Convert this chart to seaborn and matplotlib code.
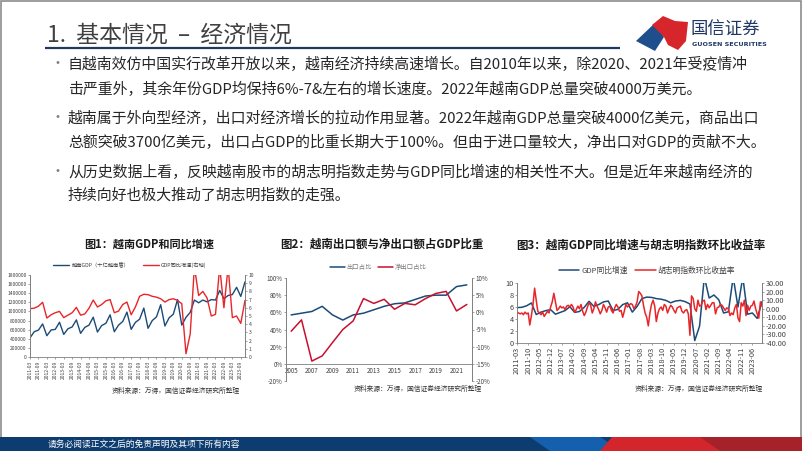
import numpy as np
import pandas as pd
import matplotlib
matplotlib.use("Agg")
import matplotlib.pyplot as plt
import seaborn as sns
from matplotlib.patches import Rectangle, Polygon

# ---------------- data ----------------
# Chart 1: quarterly GDP (billion VND) and GDP yoy growth (%), 2011Q1-2023Q4
gdp_q = [420000, 555000, 590000, 726000,
         467000, 593000, 607000, 763000,
         496000, 620000, 660000, 815000,
         519000, 650000, 700000, 874000,
         548000, 690000, 740000, 926000,
         555000, 700000, 780000, 985000,
         607000, 760000, 830000, 1074000,
         630000, 800000, 880000, 1148000,
         681000, 860000, 940000, 1260000,
         700000, 870000, 980000, 1250000,
         1190000, 1250000, 1210000, 1260000,
         1250000, 1460000, 1280000, 1350000,
         1370000, 1530000, 1330000, 1650000]
gdp_yoy = [5.9, 5.95, 6.2, 6.67,
           4.75, 5.15, 5.4, 5.56,
           4.8, 5.1, 5.4, 6.05,
           5.1, 5.25, 5.95, 6.95,
           6.1, 6.4, 6.85, 7.0,
           5.4, 5.6, 6.4, 6.7,
           5.15, 6.1, 7.4, 7.65,
           7.6, 7.4, 7.3, 7.1,
           6.7, 7.0, 7.1, 6.9,
           6.5, 0.4, 2.8, 11,
           7.5, 8.0, 7.2, 5.0,
           5.2, 11, 6.0, 11,
           4.8, 5.0, 4.1, 6.9]

# Chart 2: export share and net export share of GDP (%), 2005-2022
years2 = list(range(2005, 2023))
export_share = [57, 59, 61, 67, 57, 51, 57, 59, 63, 67, 70, 71, 75, 79, 80, 80, 90, 92]
net_export_share = [-5.5, -2.2, -14.2, -12.7, -8.8, -5.0, -2.5, 4.0, 2.6, 3.8, 0.9,
                    2.6, 2.2, 4.0, 5.5, 6.1, 0.4, 2.3]

# Chart 3: Ho Chi Minh index monthly return (%), 2011-03 .. 2023-12
hcm_ret = [-4, -5, -6, -5, -7, -4, -6, -5, -19, -8,
           5, 24, 10, -3, -5, -7, -4, -9, -6, -3,
           -5, 2, 8, 18, 8, -2, 0, 3, 1, 2,
           -1, 3, 4, 2, 5, 2, -4, -1, 3, 0,
           5, -3, -8, -4, 2, 7, 4, -5, 0, 8,
           3, -1, -6, -2, 5, 1, -4, 2, 3, -2,
           -5, 1, 5, 2, -3, -2, -10, -3, 5, 2,
           4, 6, 5, 0, 3, 8, 20, 18, 15, 4,
           -5, -10, -20, -5, 5, 10, 3, -15, -5, 0,
           2, -2, 5, 3, -5, 0, 4, 2, -2, -5,
           1, 2, 3, -3, -5, -2, -1, -6, -31, 15,
           12, 0, -3, 10, 3, 4, 9, 10, -1, 5,
           1, 4, 7, 7, -6, 1, 2, 5, 4, 1,
           -2, 1, 0, -8, -5, -7, 1, 5, -11, -15,
           7, 3, 10, -8, 4, -2, 3, 4, 9, 0,
           -6, -11, 8, 3]

title_main = "1.  基本情况  –  经济情况"
bullets = [
    ["自越南效仿中国实行改革开放以来，越南经济持续高速增长。自2010年以来，除2020、2021年受疫情冲",
     "击严重外，其余年份GDP均保持6%-7&左右的增长速度。2022年越南GDP总量突破4000万美元。"],
    ["越南属于外向型经济，出口对经济增长的拉动作用显著。2022年越南GDP总量突破4000亿美元，商品出口",
     "总额突破3700亿美元，出口占GDP的比重长期大于100%。但由于进口量较大，净出口对GDP的贡献不大。"],
    ["从历史数据上看，反映越南股市的胡志明指数走势与GDP同比增速的相关性不大。但是近年来越南经济的",
     "持续向好也极大推动了胡志明指数的走强。"],
]
chart_titles = ["图1：越南GDP和同比增速", "图2：越南出口额与净出口额占GDP比重",
                "图3：越南GDP同比增速与胡志明指数环比收益率"]
source = "资料来源：万得，国信证券经济研究所整理"
footer = "请务必阅读正文之后的免责声明及其项下所有内容"

# ---------------- style ----------------
sns.set_theme(style="ticks")
plt.rcParams['font.family'] = ['Noto Sans CJK SC', 'DejaVu Sans']
plt.rcParams['axes.unicode_minus'] = False

BLUE = "#1B4B78"
RED = "#E8262A"
RED2 = "#C8102E"

W, H = 802, 451
fig = plt.figure(figsize=(W / 100, H / 100), dpi=100)
fig.patch.set_facecolor("white")


def rect(l, t, r, b):
    return [l / W, 1 - b / H, (r - l) / W, (b - t) / H]


ov = fig.add_axes([0, 0, 1, 1])
ov.set_xlim(0, W)
ov.set_ylim(H, 0)
ov.axis("off")

# frame
ov.add_patch(Rectangle((0.5, 0.5), W - 1.5, H - 1.5, fill=False, ec="#8c8c8c", lw=1.2))

# header
ov.text(47, 35, title_main, fontsize=16.5, color="#404040", va="center", ha="left")
ov.plot([45, 620], [48, 48], color="#1F3864", lw=1.6, solid_capstyle="butt")
ov.add_patch(Polygon([(636, 41), (655, 23), (664, 37), (655, 51)], closed=True, fc="#1F4E8C", ec="none"))
ov.add_patch(Polygon([(652, 25), (663, 16), (675, 21), (688, 22), (686, 41), (678, 50), (668, 45), (664, 37)],
                     closed=True, fc="#D7262B", ec="none"))
ov.text(691, 30, "国信证券", fontsize=12.5, color="#1F3864", va="center", ha="left")
ov.text(692, 45, "GUOSEN SECURITIES", fontsize=4.6, color="#1F3864", va="center", ha="left",
        fontweight="bold", family=["DejaVu Sans"])

# bullets
line_y = [[64, 89], [118, 143], [172, 196]]
for blines, ys in zip(bullets, line_y):
    ov.text(50, ys[0], "•", fontsize=10, color="#7f7f7f", va="center", ha="left")
    for s, y in zip(blines, ys):
        ov.text(68, y, s, fontsize=10.75, color="#262626", va="center", ha="left")

# chart titles
ov.text(149, 244, chart_titles[0], fontsize=8, fontweight="bold", color="#1a1a1a", ha="center", va="center")
ov.text(382, 244, chart_titles[1], fontsize=8.3, fontweight="bold", color="#1a1a1a", ha="center", va="center")
ov.text(641, 245, chart_titles[2], fontsize=8.3, fontweight="bold", color="#1a1a1a", ha="center", va="center")

# sources
ov.text(240, 391, source, fontsize=4.9, color="#333333", ha="right", va="center")
ov.text(482, 389, source, fontsize=4.9, color="#333333", ha="right", va="center")
ov.text(763, 389, source, fontsize=4.9, color="#333333", ha="right", va="center")

# footer bar
ov.add_patch(Polygon([(0, 437), (802, 437), (802, 451), (0, 451)], fc="#0D3D70", ec="none"))
ov.add_patch(Polygon([(530, 437), (600, 437), (622, 451), (550, 451)], fc="#1560AE", ec="none"))
ov.add_patch(Polygon([(612, 437), (802, 437), (802, 451), (600, 451)], fc="#D3262C", ec="none"))
ov.add_patch(Polygon([(700, 437), (802, 437), (802, 451), (720, 451)], fc="#A5222A", ec="none"))
ov.text(48, 444, footer, fontsize=6.3, color="white", ha="left", va="center")


def style_ax(ax, size):
    ax.spines["top"].set_visible(False)
    for s in ["left", "right", "bottom"]:
        ax.spines[s].set_color("#7f7f7f")
        ax.spines[s].set_linewidth(0.6)
    ax.tick_params(axis="both", labelsize=size, colors="#7f7f7f", labelcolor="#404040",
                   length=1.5, width=0.5, pad=1)
    ax.set_xlabel("")
    ax.set_ylabel("")


# ---------------- chart 1 ----------------
q_labels = pd.period_range("2011-03", periods=52, freq="3M").strftime("%Y-%m")
df1 = pd.DataFrame({"q": np.arange(len(gdp_q)), "gdp": gdp_q, "yoy": gdp_yoy})
ax1 = fig.add_axes(rect(30, 275, 245, 357))
sns.lineplot(data=df1, x="q", y="gdp", ax=ax1, color=BLUE, lw=1.0, legend=False)
ax1.set_ylim(0, 1800000)
ax1.set_yticks(np.arange(0, 1800001, 200000))
ax1.set_yticklabels([f"{int(v)}" for v in np.arange(0, 1800001, 200000)])
ax1.set_xlim(0, len(gdp_q) - 1)
ax1.set_xticks(np.arange(0, 52, 2))
ax1.set_xticklabels(q_labels[::2], rotation=90)
ax1b = ax1.twinx()
sns.lineplot(data=df1, x="q", y="yoy", ax=ax1b, color=RED, lw=1.0, legend=False)
ax1b.set_ylim(0, 10)
ax1b.set_yticks(range(0, 11))
style_ax(ax1, 3.6)
style_ax(ax1b, 3.6)
ax1b.spines["bottom"].set_visible(False)
h = ax1.get_lines()[:1] + ax1b.get_lines()[:1]
ax1.legend(handles=h, labels=["越南GDP（十亿越南盾）", "GDP同比增速(右轴)"], loc="center",
           bbox_to_anchor=((130 - 30) / 215, (275 - 265) / 82 + 1), ncol=2, frameon=False,
           fontsize=3.8, handlelength=3, handletextpad=0.5, columnspacing=2.5, labelcolor="#404040")

# ---------------- chart 2 ----------------
df2 = pd.DataFrame({"i": np.arange(len(years2)), "exp": export_share, "net": net_export_share})
ax2 = fig.add_axes(rect(286, 278, 472, 381))
sns.lineplot(data=df2, x="i", y="exp", ax=ax2, color=BLUE, lw=1.1, legend=False)
ax2.set_ylim(-20, 100)
ax2.set_yticks(range(-20, 101, 20))
ax2.set_yticklabels([f"{v}%" for v in range(-20, 101, 20)])
ax2.set_xlim(-0.5, len(years2) - 0.5)
ax2.set_xticks(np.arange(0, len(years2), 2))
ax2.set_xticklabels([str(y) for y in years2[::2]])
ax2b = ax2.twinx()
sns.lineplot(data=df2, x="i", y="net", ax=ax2b, color=RED2, lw=1.1, legend=False)
ax2b.set_ylim(-20, 10)
ax2b.set_yticks(range(-20, 11, 5))
ax2b.set_yticklabels([f"{v}%" for v in range(-20, 11, 5)])
style_ax(ax2, 4.5)
style_ax(ax2b, 4.5)
ax2.spines["bottom"].set_position(("data", 0))
ax2.tick_params(axis="x", length=0, pad=2)
ax2b.spines["bottom"].set_visible(False)
h = ax2.get_lines()[:1] + ax2b.get_lines()[:1]
ax2.legend(handles=h, labels=["出口占比", "净出口占比"], loc="center",
           bbox_to_anchor=((378 - 286) / 186, (278 - 267) / 103 + 1), ncol=2, frameon=False,
           fontsize=4.6, handlelength=2.4, handletextpad=0.2, columnspacing=1.0, labelcolor="#7f7f7f")

# ---------------- chart 3 ----------------
m_labels = pd.period_range("2011-03", periods=len(hcm_ret), freq="M").strftime("%Y-%m")
df3m = pd.DataFrame({"m": np.arange(len(hcm_ret)), "ret": hcm_ret})
df3q = pd.DataFrame({"m": np.arange(0, len(hcm_ret), 3)[:len(gdp_yoy)], "yoy": gdp_yoy})
ax3 = fig.add_axes(rect(517, 283, 762, 343))
sns.lineplot(data=df3q, x="m", y="yoy", ax=ax3, color=BLUE, lw=1.1, legend=False)
ax3.set_ylim(0, 10)
ax3.set_yticks(range(0, 11, 2))
ax3.set_xlim(0, len(hcm_ret) - 1)
ax3.set_xticks(np.arange(0, len(hcm_ret), 7))
ax3.set_xticklabels(m_labels[::7], rotation=90)
ax3b = ax3.twinx()
sns.lineplot(data=df3m, x="m", y="ret", ax=ax3b, color=RED, lw=1.1, legend=False)
ax3b.set_ylim(-40, 30)
ax3b.set_yticks(range(-40, 31, 10))
ax3b.set_yticklabels([f"{v:.2f}" for v in range(-40, 31, 10)])
style_ax(ax3, 5.3)
style_ax(ax3b, 5.3)
ax3b.spines["bottom"].set_visible(False)
h = ax3.get_lines()[:1] + ax3b.get_lines()[:1]
ax3.legend(handles=h, labels=["GDP同比增速", "胡志明指数环比收益率"], loc="center",
           bbox_to_anchor=((647 - 517) / 245, (283 - 271) / 60 + 1), ncol=2, frameon=False,
           fontsize=5.6, handlelength=2.6, handletextpad=0.3, columnspacing=1.0, labelcolor="#404040")

fig.savefig("out.png", dpi=100)
